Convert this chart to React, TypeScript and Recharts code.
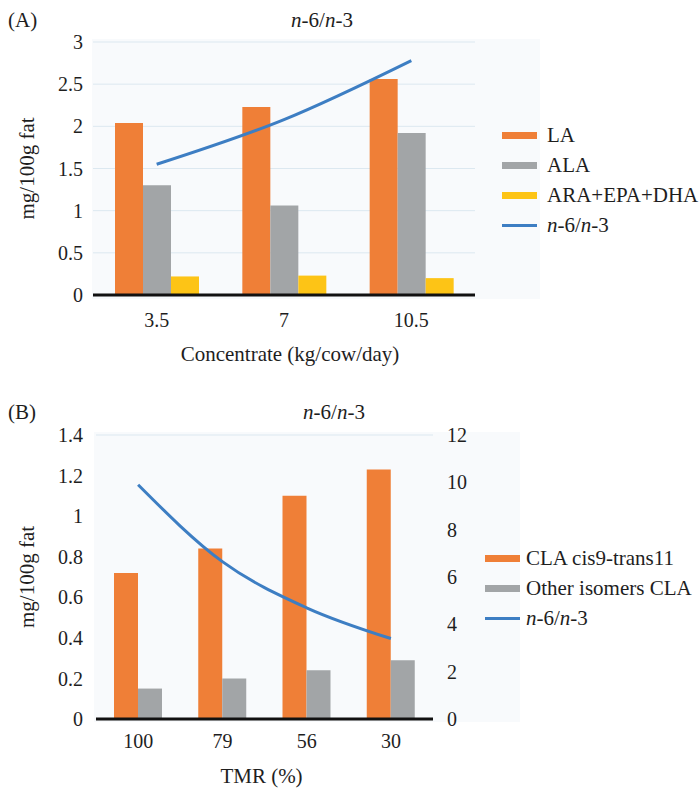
import { ComposedChart, Bar, Line, XAxis, YAxis, CartesianGrid, Legend } from 'recharts'

const concentrate = ['3.5', '7', '10.5']
const la = [2.04, 2.23, 2.56]
const ala = [1.3, 1.06, 1.92]
const araEpaDha = [0.22, 0.23, 0.2]
const ratioA = [1.55, 2.08, 2.78]
const ticksA = [0, 0.5, 1, 1.5, 2, 2.5, 3]

const tmr = ['100', '79', '56', '30']
const claC9t11 = [0.72, 0.84, 1.1, 1.23]
const otherCla = [0.15, 0.2, 0.24, 0.29]
const ratioB = [9.9, 6.65, 4.7, 3.4]
const ticksBLeft = [0, 0.2, 0.4, 0.6, 0.8, 1, 1.2, 1.4]
const ticksBRight = [0, 2, 4, 6, 8, 10, 12]

const legendOrderA = ['LA', 'ALA', 'ARA+EPA+DHA', 'n-6/n-3']
const legendOrderB = ['CLA cis9-trans11', 'Other isomers CLA', 'n-6/n-3']

const dataA = concentrate.map((c, i) => ({ c, la: la[i], ala: ala[i], pufa: araEpaDha[i], ratio: ratioA[i] }))
const dataB = tmr.map((c, i) => ({ c, cla: claC9t11[i], other: otherCla[i], ratio: ratioB[i] }))

const FONT = '"Liberation Serif", Tinos, "DejaVu Serif", serif'
const TEXT = '#1e1e1e'
const ORANGE = '#ef7f37'
const GRAY = '#a2a5a7'
const YELLOW = '#fdc416'
const BLUE = '#3d7ec3'
const GRID = '#dce8f0'

const tickStyle = { fontSize: 20, fontFamily: FONT, fill: TEXT }
const labelStyle = { fontSize: 21, fontFamily: FONT, fill: TEXT }

function seriesName(name: string) {
    if(name === 'n-6/n-3') return <><i>n</i>-6/<i>n</i>-3</>
    return name
}

function LegendList({ payload, gap }: any) {
    return (
        <div style={{ fontFamily: FONT, fontSize: 21, color: TEXT }}>
            {(payload || []).map((p: any) => (
                <div key={p.value} style={{ display: 'flex', alignItems: 'center', height: 30, whiteSpace: 'nowrap' }}>
                    <span style={{ display: 'inline-block', width: 35, height: p.type === 'line' ? 3 : 7, background: p.color, marginRight: gap }} />
                    <span>{seriesName(p.value)}</span>
                </div>
            ))}
        </div>
    )
}

function Heading({ tag, left, top }: { tag: string, left: number, top: number }) {
    return (
        <>
            <div style={{ position: 'absolute', left: 8, top, fontSize: 21, lineHeight: '21px' }}>{tag}</div>
            <div style={{ position: 'absolute', left, top: top, fontSize: 21, lineHeight: '21px', transform: 'translateX(-50%)', whiteSpace: 'nowrap' }}>
                {seriesName('n-6/n-3')}
            </div>
        </>
    )
}

function App() {
    return (
        <div style={{ position: 'absolute', left: 0, top: 0, width: 700, height: 791, background: '#fff', fontFamily: FONT, color: TEXT }}>
            <div style={{ position: 'absolute', left: 92, top: 39, width: 448, height: 260, background: '#f8fafc' }} />
            <div style={{ position: 'absolute', left: 94, top: 432, width: 426, height: 290, background: '#f8fafc' }} />
            <Heading tag="(A)" left={322} top={10} />
            <Heading tag="(B)" left={334} top={402} />

            <div style={{ position: 'absolute', left: 0, top: 0 }}>
                <ComposedChart width={700} height={370} data={dataA} margin={{ top: 42, right: 225, bottom: 0, left: 0 }} barGap={0}>
                    <CartesianGrid vertical={false} stroke={GRID} />
                    <XAxis dataKey="c" height={75} tickSize={0} tickMargin={18} tick={tickStyle}
                        axisLine={{ stroke: '#111', strokeWidth: 3 }}
                        label={{ value: 'Concentrate (kg/cow/day)', position: 'insideBottom', offset: 9, dx: 6, style: labelStyle }} />
                    <YAxis domain={[0, 3]} ticks={ticksA} width={93} tickSize={0} tickMargin={10} tick={tickStyle} axisLine={false}
                        label={{ value: 'mg/100g fat', angle: -90, position: 'insideLeft', offset: 27, style: { ...labelStyle, textAnchor: 'middle' } }} />
                    <Legend layout="vertical" align="center" verticalAlign="middle"
                        itemSorter={(item: any) => legendOrderA.indexOf(item.value)}
                        wrapperStyle={{ left: 502, top: 120, width: 200 }}
                        content={(props: any) => <LegendList {...props} gap={10} />} />
                    <Bar dataKey="la" name="LA" fill={ORANGE} barSize={28} isAnimationActive={false} />
                    <Bar dataKey="ala" name="ALA" fill={GRAY} barSize={28} isAnimationActive={false} />
                    <Bar dataKey="pufa" name="ARA+EPA+DHA" fill={YELLOW} barSize={28} isAnimationActive={false} />
                    <Line dataKey="ratio" name="n-6/n-3" type="monotone" stroke={BLUE} strokeWidth={3} dot={false} isAnimationActive={false} />
                </ComposedChart>
            </div>

            <div style={{ position: 'absolute', left: 0, top: 370 }}>
                <ComposedChart width={700} height={421} data={dataB} margin={{ top: 65, right: 207, bottom: 0, left: 0 }} barGap={0}>
                    <CartesianGrid vertical={false} stroke={GRID} />
                    <XAxis dataKey="c" height={72} tickSize={0} tickMargin={15} tick={tickStyle}
                        axisLine={{ stroke: '#111', strokeWidth: 3 }}
                        label={{ value: 'TMR (%)', position: 'insideBottom', offset: 8, dx: -3, style: labelStyle }} />
                    <YAxis yAxisId="left" domain={[0, 1.4]} ticks={ticksBLeft} width={96} tickSize={0} tickMargin={13} tick={tickStyle} axisLine={false}
                        label={{ value: 'mg/100g fat', angle: -90, position: 'insideLeft', offset: 27, style: { ...labelStyle, textAnchor: 'middle' } }} />
                    <YAxis yAxisId="right" orientation="right" domain={[0, 12]} ticks={ticksBRight} width={60} tickSize={0} tickMargin={14}
                        tick={{ ...tickStyle, textAnchor: 'start' }} axisLine={false} />
                    <Legend layout="vertical" align="center" verticalAlign="middle"
                        itemSorter={(item: any) => legendOrderB.indexOf(item.value)}
                        wrapperStyle={{ left: 485, top: 173, width: 215 }}
                        content={(props: any) => <LegendList {...props} gap={6} />} />
                    <Bar yAxisId="left" dataKey="cla" name="CLA cis9-trans11" fill={ORANGE} barSize={24} isAnimationActive={false} />
                    <Bar yAxisId="left" dataKey="other" name="Other isomers CLA" fill={GRAY} barSize={24} isAnimationActive={false} />
                    <Line yAxisId="right" dataKey="ratio" name="n-6/n-3" type="monotone" stroke={BLUE} strokeWidth={3} dot={false} isAnimationActive={false} />
                </ComposedChart>
            </div>
        </div>
    )
}

export default App
